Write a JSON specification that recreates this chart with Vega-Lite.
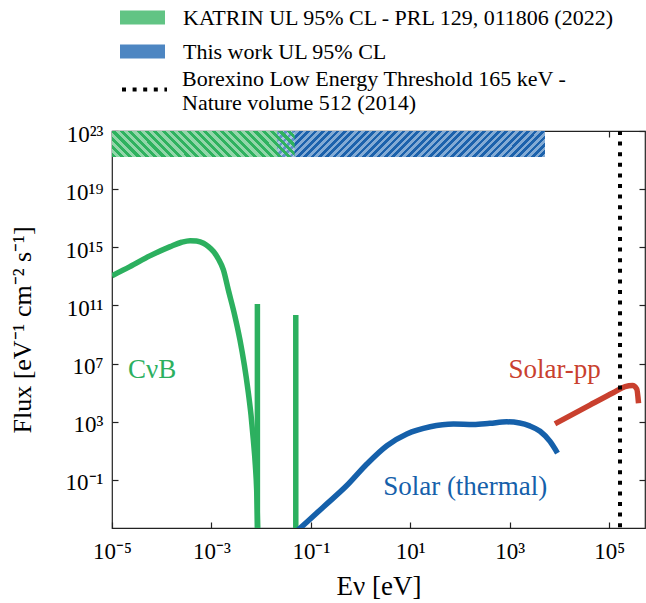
{
  "$schema": "https://vega.github.io/schema/vega-lite/v6.json",
  "width": 533,
  "height": 397,
  "autosize": {"type": "none"},
  "padding": {"left": 112, "top": 131, "right": 1, "bottom": 75},
  "background": "white",
  "config": {
    "view": {"stroke": "#222", "strokeWidth": 1.2},
    "font": "Liberation Serif",
    "axis": {
      "grid": false, "domain": false, "tickColor": "#222", "tickWidth": 1.2, "tickSize": -6,
      "labelFont": "Liberation Serif", "labelFontSize": 23, "labelColor": "black",
      "titleFont": "Liberation Serif", "titleFontSize": 27, "titleFontWeight": "normal", "titleColor": "black",
      "labelFlush": false, "labelOverlap": false
    }
  },
  "datasets": {
    "rects": [
      {"label": "KATRIN UL 95% CL - PRL 129, 011806 (2022)", "E1": 1e-5, "E2": 0.047, "F1": 1.6e21, "F2": 1e23},
      {"label": "This work UL 95% CL", "E1": 0.0212, "E2": 5100, "F1": 1.6e21, "F2": 1e23}
    ],
    "curves": [
      {"series": "CνB", "E": 1e-5, "F": 1.12e13},
      {"series": "CνB", "E": 2.29e-5, "F": 4.68e13},
      {"series": "CνB", "E": 5.75e-5, "F": 2.57e14},
      {"series": "CνB", "E": 1.48e-4, "F": 1.12e15},
      {"series": "CνB", "E": 2.51e-4, "F": 2.24e15},
      {"series": "CνB", "E": 3.72e-4, "F": 2.88e15},
      {"series": "CνB", "E": 5.01e-4, "F": 2.69e15},
      {"series": "CνB", "E": 6.92e-4, "F": 1.91e15},
      {"series": "CνB", "E": 8.71e-4, "F": 1.12e15},
      {"series": "CνB", "E": 1.10e-3, "F": 5.13e14},
      {"series": "CνB", "E": 1.38e-3, "F": 1.58e14},
      {"series": "CνB", "E": 1.74e-3, "F": 2.82e13},
      {"series": "CνB", "E": 2.188e-3, "F": 1.16e12},
      {"series": "CνB", "E": 2.931e-3, "F": 2.21e10},
      {"series": "CνB", "E": 3.75e-3, "F": 4.23e8},
      {"series": "CνB", "E": 4.592e-3, "F": 8.05e6},
      {"series": "CνB", "E": 5.433e-3, "F": 1.54e5},
      {"series": "CνB", "E": 6.252e-3, "F": 2938},
      {"series": "CνB", "E": 6.966e-3, "F": 56},
      {"series": "CνB", "E": 7.638e-3, "F": 1.07},
      {"series": "CνB", "E": 8.128e-3, "F": 0.0204},
      {"series": "CνB", "E": 8.511e-3, "F": 4.68e-5},
      {"series": "CνB", "E": 8.71e-3, "F": 1e-6},
      {"series": "Solar (thermal)", "E": 0.0447, "F": 2.0e-5},
      {"series": "Solar (thermal)", "E": 0.0607, "F": 4.9e-5},
      {"series": "Solar (thermal)", "E": 0.1786, "F": 1.41e-3},
      {"series": "Solar (thermal)", "E": 0.528, "F": 0.0417},
      {"series": "Solar (thermal)", "E": 1.337, "F": 1.26},
      {"series": "Solar (thermal)", "E": 3.38, "F": 22.9},
      {"series": "Solar (thermal)", "E": 8.51, "F": 145},
      {"series": "Solar (thermal)", "E": 25.1, "F": 457},
      {"series": "Solar (thermal)", "E": 74, "F": 708},
      {"series": "Solar (thermal)", "E": 186, "F": 661},
      {"series": "Solar (thermal)", "E": 398, "F": 794},
      {"series": "Solar (thermal)", "E": 871, "F": 1000},
      {"series": "Solar (thermal)", "E": 1585, "F": 832},
      {"series": "Solar (thermal)", "E": 2512, "F": 525},
      {"series": "Solar (thermal)", "E": 4074, "F": 224},
      {"series": "Solar (thermal)", "E": 6457, "F": 44.7},
      {"series": "Solar (thermal)", "E": 9120, "F": 7.08},
      {"series": "Solar-pp", "E": 8128, "F": 724},
      {"series": "Solar-pp", "E": 41690, "F": 14790},
      {"series": "Solar-pp", "E": 123000, "F": 104700},
      {"series": "Solar-pp", "E": 208900, "F": 263000},
      {"series": "Solar-pp", "E": 295100, "F": 309000},
      {"series": "Solar-pp", "E": 358900, "F": 177800},
      {"series": "Solar-pp", "E": 389000, "F": 19050}
    ],
    "masses": [
      {"E": 0.0084, "Ftop": 1.29e11, "Fbot": 1e-6},
      {"E": 0.0497, "Ftop": 2.24e10, "Fbot": 1e-6}
    ],
    "threshold": [
      {"label": "Borexino Low Energy Threshold 165 keV -|Nature volume 512 (2014)", "E": 165000}
    ],
    "labels": [
      {"series": "CνB", "E": 2.1e-5, "F": 3.7e6},
      {"series": "Solar (thermal)", "E": 2.84, "F": 0.0355},
      {"series": "Solar-pp", "E": 940, "F": 3.7e6}
    ]
  },
  "resolve": {"axis": {"x": "independent", "y": "independent"}},
  "layer": [
    {
      "data": {"name": "rects"},
      "mark": {"type": "rect", "clip": true, "strokeWidth": 0},
      "encoding": {
        "x": {"field": "E1", "type": "quantitative", "title": null,
          "scale": {"type": "log", "domain": [1e-5, 525000], "nice": false},
          "axis": {"orient": "top", "values": [1e-5, 1e-3, 0.1, 10, 1000, 100000], "labels": false, "title": null}},
        "x2": {"field": "E2"},
        "y": {"field": "F1", "type": "quantitative", "title": null,
          "scale": {"type": "log", "domain": [5e-5, 1e23], "nice": false},
          "axis": {"orient": "right", "values": [0.1, 1000, 1e7, 1e11, 1e15, 1e19, 1e23], "labels": false, "title": null}},
        "y2": {"field": "F2"},
        "fill": {"field": "label", "type": "nominal",
          "scale": {"domain": ["KATRIN UL 95% CL - PRL 129, 011806 (2022)", "This work UL 95% CL"], "range": ["#61c484", "#4d86c2"]},
          "legend": {"orient": "none", "legendX": 8, "legendY": -136, "title": null, "padding": 0,
            "symbolType": "M-1,-0.311H1V0.311H-1Z", "symbolSize": 2025, "symbolStrokeWidth": 0, "symbolOpacity": 1,
            "labelFont": "Liberation Serif", "labelFontSize": 22, "labelColor": "black", "labelLimit": 600,
            "labelOffset": 18, "rowPadding": -2.5}}
      }
    },
    {
      "layer": [
        {
          "data": {"name": "rects"},
          "transform": [{"filter": "datum.label === 'This work UL 95% CL'"}],
          "mark": {"type": "rect", "clip": true, "strokeWidth": 0,
            "fill": {"gradient": "linear", "x1": 0, "y1": 0, "x2": 1.0872, "y2": 0.106, "stops": [
              {"offset": 0, "color": "#1c62ac"}, {"offset": 0.0125, "color": "#1c62ac"}, {"offset": 0.0125, "color": "rgba(255,255,255,0.3)"}, {"offset": 0.025, "color": "rgba(255,255,255,0.3)"},
              {"offset": 0.025, "color": "#1c62ac"}, {"offset": 0.0375, "color": "#1c62ac"}, {"offset": 0.0375, "color": "rgba(255,255,255,0.3)"}, {"offset": 0.05, "color": "rgba(255,255,255,0.3)"},
              {"offset": 0.05, "color": "#1c62ac"}, {"offset": 0.0625, "color": "#1c62ac"}, {"offset": 0.0625, "color": "rgba(255,255,255,0.3)"}, {"offset": 0.075, "color": "rgba(255,255,255,0.3)"},
              {"offset": 0.075, "color": "#1c62ac"}, {"offset": 0.0875, "color": "#1c62ac"}, {"offset": 0.0875, "color": "rgba(255,255,255,0.3)"}, {"offset": 0.1, "color": "rgba(255,255,255,0.3)"},
              {"offset": 0.1, "color": "#1c62ac"}, {"offset": 0.1125, "color": "#1c62ac"}, {"offset": 0.1125, "color": "rgba(255,255,255,0.3)"}, {"offset": 0.125, "color": "rgba(255,255,255,0.3)"},
              {"offset": 0.125, "color": "#1c62ac"}, {"offset": 0.1375, "color": "#1c62ac"}, {"offset": 0.1375, "color": "rgba(255,255,255,0.3)"}, {"offset": 0.15, "color": "rgba(255,255,255,0.3)"},
              {"offset": 0.15, "color": "#1c62ac"}, {"offset": 0.1625, "color": "#1c62ac"}, {"offset": 0.1625, "color": "rgba(255,255,255,0.3)"}, {"offset": 0.175, "color": "rgba(255,255,255,0.3)"},
              {"offset": 0.175, "color": "#1c62ac"}, {"offset": 0.1875, "color": "#1c62ac"}, {"offset": 0.1875, "color": "rgba(255,255,255,0.3)"}, {"offset": 0.2, "color": "rgba(255,255,255,0.3)"},
              {"offset": 0.2, "color": "#1c62ac"}, {"offset": 0.2125, "color": "#1c62ac"}, {"offset": 0.2125, "color": "rgba(255,255,255,0.3)"}, {"offset": 0.225, "color": "rgba(255,255,255,0.3)"},
              {"offset": 0.225, "color": "#1c62ac"}, {"offset": 0.2375, "color": "#1c62ac"}, {"offset": 0.2375, "color": "rgba(255,255,255,0.3)"}, {"offset": 0.25, "color": "rgba(255,255,255,0.3)"},
              {"offset": 0.25, "color": "#1c62ac"}, {"offset": 0.2625, "color": "#1c62ac"}, {"offset": 0.2625, "color": "rgba(255,255,255,0.3)"}, {"offset": 0.275, "color": "rgba(255,255,255,0.3)"},
              {"offset": 0.275, "color": "#1c62ac"}, {"offset": 0.2875, "color": "#1c62ac"}, {"offset": 0.2875, "color": "rgba(255,255,255,0.3)"}, {"offset": 0.3, "color": "rgba(255,255,255,0.3)"},
              {"offset": 0.3, "color": "#1c62ac"}, {"offset": 0.3125, "color": "#1c62ac"}, {"offset": 0.3125, "color": "rgba(255,255,255,0.3)"}, {"offset": 0.325, "color": "rgba(255,255,255,0.3)"},
              {"offset": 0.325, "color": "#1c62ac"}, {"offset": 0.3375, "color": "#1c62ac"}, {"offset": 0.3375, "color": "rgba(255,255,255,0.3)"}, {"offset": 0.35, "color": "rgba(255,255,255,0.3)"},
              {"offset": 0.35, "color": "#1c62ac"}, {"offset": 0.3625, "color": "#1c62ac"}, {"offset": 0.3625, "color": "rgba(255,255,255,0.3)"}, {"offset": 0.375, "color": "rgba(255,255,255,0.3)"},
              {"offset": 0.375, "color": "#1c62ac"}, {"offset": 0.3875, "color": "#1c62ac"}, {"offset": 0.3875, "color": "rgba(255,255,255,0.3)"}, {"offset": 0.4, "color": "rgba(255,255,255,0.3)"},
              {"offset": 0.4, "color": "#1c62ac"}, {"offset": 0.4125, "color": "#1c62ac"}, {"offset": 0.4125, "color": "rgba(255,255,255,0.3)"}, {"offset": 0.425, "color": "rgba(255,255,255,0.3)"},
              {"offset": 0.425, "color": "#1c62ac"}, {"offset": 0.4375, "color": "#1c62ac"}, {"offset": 0.4375, "color": "rgba(255,255,255,0.3)"}, {"offset": 0.45, "color": "rgba(255,255,255,0.3)"},
              {"offset": 0.45, "color": "#1c62ac"}, {"offset": 0.4625, "color": "#1c62ac"}, {"offset": 0.4625, "color": "rgba(255,255,255,0.3)"}, {"offset": 0.475, "color": "rgba(255,255,255,0.3)"},
              {"offset": 0.475, "color": "#1c62ac"}, {"offset": 0.4875, "color": "#1c62ac"}, {"offset": 0.4875, "color": "rgba(255,255,255,0.3)"}, {"offset": 0.5, "color": "rgba(255,255,255,0.3)"},
              {"offset": 0.5, "color": "#1c62ac"}, {"offset": 0.5125, "color": "#1c62ac"}, {"offset": 0.5125, "color": "rgba(255,255,255,0.3)"}, {"offset": 0.525, "color": "rgba(255,255,255,0.3)"},
              {"offset": 0.525, "color": "#1c62ac"}, {"offset": 0.5375, "color": "#1c62ac"}, {"offset": 0.5375, "color": "rgba(255,255,255,0.3)"}, {"offset": 0.55, "color": "rgba(255,255,255,0.3)"},
              {"offset": 0.55, "color": "#1c62ac"}, {"offset": 0.5625, "color": "#1c62ac"}, {"offset": 0.5625, "color": "rgba(255,255,255,0.3)"}, {"offset": 0.575, "color": "rgba(255,255,255,0.3)"},
              {"offset": 0.575, "color": "#1c62ac"}, {"offset": 0.5875, "color": "#1c62ac"}, {"offset": 0.5875, "color": "rgba(255,255,255,0.3)"}, {"offset": 0.6, "color": "rgba(255,255,255,0.3)"},
              {"offset": 0.6, "color": "#1c62ac"}, {"offset": 0.6125, "color": "#1c62ac"}, {"offset": 0.6125, "color": "rgba(255,255,255,0.3)"}, {"offset": 0.625, "color": "rgba(255,255,255,0.3)"},
              {"offset": 0.625, "color": "#1c62ac"}, {"offset": 0.6375, "color": "#1c62ac"}, {"offset": 0.6375, "color": "rgba(255,255,255,0.3)"}, {"offset": 0.65, "color": "rgba(255,255,255,0.3)"},
              {"offset": 0.65, "color": "#1c62ac"}, {"offset": 0.6625, "color": "#1c62ac"}, {"offset": 0.6625, "color": "rgba(255,255,255,0.3)"}, {"offset": 0.675, "color": "rgba(255,255,255,0.3)"},
              {"offset": 0.675, "color": "#1c62ac"}, {"offset": 0.6875, "color": "#1c62ac"}, {"offset": 0.6875, "color": "rgba(255,255,255,0.3)"}, {"offset": 0.7, "color": "rgba(255,255,255,0.3)"},
              {"offset": 0.7, "color": "#1c62ac"}, {"offset": 0.7125, "color": "#1c62ac"}, {"offset": 0.7125, "color": "rgba(255,255,255,0.3)"}, {"offset": 0.725, "color": "rgba(255,255,255,0.3)"},
              {"offset": 0.725, "color": "#1c62ac"}, {"offset": 0.7375, "color": "#1c62ac"}, {"offset": 0.7375, "color": "rgba(255,255,255,0.3)"}, {"offset": 0.75, "color": "rgba(255,255,255,0.3)"},
              {"offset": 0.75, "color": "#1c62ac"}, {"offset": 0.7625, "color": "#1c62ac"}, {"offset": 0.7625, "color": "rgba(255,255,255,0.3)"}, {"offset": 0.775, "color": "rgba(255,255,255,0.3)"},
              {"offset": 0.775, "color": "#1c62ac"}, {"offset": 0.7875, "color": "#1c62ac"}, {"offset": 0.7875, "color": "rgba(255,255,255,0.3)"}, {"offset": 0.8, "color": "rgba(255,255,255,0.3)"},
              {"offset": 0.8, "color": "#1c62ac"}, {"offset": 0.8125, "color": "#1c62ac"}, {"offset": 0.8125, "color": "rgba(255,255,255,0.3)"}, {"offset": 0.825, "color": "rgba(255,255,255,0.3)"},
              {"offset": 0.825, "color": "#1c62ac"}, {"offset": 0.8375, "color": "#1c62ac"}, {"offset": 0.8375, "color": "rgba(255,255,255,0.3)"}, {"offset": 0.85, "color": "rgba(255,255,255,0.3)"},
              {"offset": 0.85, "color": "#1c62ac"}, {"offset": 0.8625, "color": "#1c62ac"}, {"offset": 0.8625, "color": "rgba(255,255,255,0.3)"}, {"offset": 0.875, "color": "rgba(255,255,255,0.3)"},
              {"offset": 0.875, "color": "#1c62ac"}, {"offset": 0.8875, "color": "#1c62ac"}, {"offset": 0.8875, "color": "rgba(255,255,255,0.3)"}, {"offset": 0.9, "color": "rgba(255,255,255,0.3)"},
              {"offset": 0.9, "color": "#1c62ac"}, {"offset": 0.9125, "color": "#1c62ac"}, {"offset": 0.9125, "color": "rgba(255,255,255,0.3)"}, {"offset": 0.925, "color": "rgba(255,255,255,0.3)"},
              {"offset": 0.925, "color": "#1c62ac"}, {"offset": 0.9375, "color": "#1c62ac"}, {"offset": 0.9375, "color": "rgba(255,255,255,0.3)"}, {"offset": 0.95, "color": "rgba(255,255,255,0.3)"},
              {"offset": 0.95, "color": "#1c62ac"}, {"offset": 0.9625, "color": "#1c62ac"}, {"offset": 0.9625, "color": "rgba(255,255,255,0.3)"}, {"offset": 0.975, "color": "rgba(255,255,255,0.3)"},
              {"offset": 0.975, "color": "#1c62ac"}, {"offset": 0.9875, "color": "#1c62ac"}, {"offset": 0.9875, "color": "rgba(255,255,255,0.3)"}, {"offset": 1, "color": "rgba(255,255,255,0.3)"}
            ]}},
          "encoding": {
            "x": {"field": "E1", "type": "quantitative", "title": "Eν [eV]",
              "scale": {"type": "log", "domain": [1e-5, 525000], "nice": false},
              "axis": {"values": [1e-5, 1e-3, 0.1, 10, 1000, 100000], "labelPadding": 18, "titlePadding": 10,
                "labelExpr": "datum.value < 1e-4 ? '10⁻⁵' : datum.value < 1e-2 ? '10⁻³' : datum.value < 1 ? '10⁻¹' : datum.value < 100 ? '10¹' : datum.value < 1e4 ? '10³' : '10⁵'"}},
            "x2": {"field": "E2"},
            "y": {"field": "F1", "type": "quantitative", "title": "Flux [eV⁻¹ cm⁻² s⁻¹]",
              "scale": {"type": "log", "domain": [5e-5, 1e23], "nice": false},
              "axis": {"values": [0.1, 1000, 1e7, 1e11, 1e15, 1e19, 1e23], "labelPadding": 15, "titlePadding": 30, "labelOffset": 3, "titleFontSize": 26,
                "labelExpr": "datum.value < 1 ? '10⁻¹' : datum.value < 1e4 ? '10³' : datum.value < 1e8 ? '10⁷' : datum.value < 1e12 ? '10¹¹' : datum.value < 1e16 ? '10¹⁵' : datum.value < 1e20 ? '10¹⁹' : '10²³'"}},
            "y2": {"field": "F2"}
          }
        },
        {
          "data": {"name": "rects"},
          "transform": [{"filter": "datum.label !== 'This work UL 95% CL'"}],
          "mark": {"type": "rect", "clip": true, "strokeWidth": 0,
            "fill": {"gradient": "linear", "x1": 0, "y1": 1, "x2": 1.1199, "y2": 0.8403, "stops": [
              {"offset": 0, "color": "#2fb25f"}, {"offset": 0.02, "color": "#2fb25f"}, {"offset": 0.02, "color": "rgba(255,255,255,0.31)"}, {"offset": 0.04, "color": "rgba(255,255,255,0.31)"},
              {"offset": 0.04, "color": "#2fb25f"}, {"offset": 0.06, "color": "#2fb25f"}, {"offset": 0.06, "color": "rgba(255,255,255,0.31)"}, {"offset": 0.08, "color": "rgba(255,255,255,0.31)"},
              {"offset": 0.08, "color": "#2fb25f"}, {"offset": 0.1, "color": "#2fb25f"}, {"offset": 0.1, "color": "rgba(255,255,255,0.31)"}, {"offset": 0.12, "color": "rgba(255,255,255,0.31)"},
              {"offset": 0.12, "color": "#2fb25f"}, {"offset": 0.14, "color": "#2fb25f"}, {"offset": 0.14, "color": "rgba(255,255,255,0.31)"}, {"offset": 0.16, "color": "rgba(255,255,255,0.31)"},
              {"offset": 0.16, "color": "#2fb25f"}, {"offset": 0.18, "color": "#2fb25f"}, {"offset": 0.18, "color": "rgba(255,255,255,0.31)"}, {"offset": 0.2, "color": "rgba(255,255,255,0.31)"},
              {"offset": 0.2, "color": "#2fb25f"}, {"offset": 0.22, "color": "#2fb25f"}, {"offset": 0.22, "color": "rgba(255,255,255,0.31)"}, {"offset": 0.24, "color": "rgba(255,255,255,0.31)"},
              {"offset": 0.24, "color": "#2fb25f"}, {"offset": 0.26, "color": "#2fb25f"}, {"offset": 0.26, "color": "rgba(255,255,255,0.31)"}, {"offset": 0.28, "color": "rgba(255,255,255,0.31)"},
              {"offset": 0.28, "color": "#2fb25f"}, {"offset": 0.3, "color": "#2fb25f"}, {"offset": 0.3, "color": "rgba(255,255,255,0.31)"}, {"offset": 0.32, "color": "rgba(255,255,255,0.31)"},
              {"offset": 0.32, "color": "#2fb25f"}, {"offset": 0.34, "color": "#2fb25f"}, {"offset": 0.34, "color": "rgba(255,255,255,0.31)"}, {"offset": 0.36, "color": "rgba(255,255,255,0.31)"},
              {"offset": 0.36, "color": "#2fb25f"}, {"offset": 0.38, "color": "#2fb25f"}, {"offset": 0.38, "color": "rgba(255,255,255,0.31)"}, {"offset": 0.4, "color": "rgba(255,255,255,0.31)"},
              {"offset": 0.4, "color": "#2fb25f"}, {"offset": 0.42, "color": "#2fb25f"}, {"offset": 0.42, "color": "rgba(255,255,255,0.31)"}, {"offset": 0.44, "color": "rgba(255,255,255,0.31)"},
              {"offset": 0.44, "color": "#2fb25f"}, {"offset": 0.46, "color": "#2fb25f"}, {"offset": 0.46, "color": "rgba(255,255,255,0.31)"}, {"offset": 0.48, "color": "rgba(255,255,255,0.31)"},
              {"offset": 0.48, "color": "#2fb25f"}, {"offset": 0.5, "color": "#2fb25f"}, {"offset": 0.5, "color": "rgba(255,255,255,0.31)"}, {"offset": 0.52, "color": "rgba(255,255,255,0.31)"},
              {"offset": 0.52, "color": "#2fb25f"}, {"offset": 0.54, "color": "#2fb25f"}, {"offset": 0.54, "color": "rgba(255,255,255,0.31)"}, {"offset": 0.56, "color": "rgba(255,255,255,0.31)"},
              {"offset": 0.56, "color": "#2fb25f"}, {"offset": 0.58, "color": "#2fb25f"}, {"offset": 0.58, "color": "rgba(255,255,255,0.31)"}, {"offset": 0.6, "color": "rgba(255,255,255,0.31)"},
              {"offset": 0.6, "color": "#2fb25f"}, {"offset": 0.62, "color": "#2fb25f"}, {"offset": 0.62, "color": "rgba(255,255,255,0.31)"}, {"offset": 0.64, "color": "rgba(255,255,255,0.31)"},
              {"offset": 0.64, "color": "#2fb25f"}, {"offset": 0.66, "color": "#2fb25f"}, {"offset": 0.66, "color": "rgba(255,255,255,0.31)"}, {"offset": 0.68, "color": "rgba(255,255,255,0.31)"},
              {"offset": 0.68, "color": "#2fb25f"}, {"offset": 0.7, "color": "#2fb25f"}, {"offset": 0.7, "color": "rgba(255,255,255,0.31)"}, {"offset": 0.72, "color": "rgba(255,255,255,0.31)"},
              {"offset": 0.72, "color": "#2fb25f"}, {"offset": 0.74, "color": "#2fb25f"}, {"offset": 0.74, "color": "rgba(255,255,255,0.31)"}, {"offset": 0.76, "color": "rgba(255,255,255,0.31)"},
              {"offset": 0.76, "color": "#2fb25f"}, {"offset": 0.78, "color": "#2fb25f"}, {"offset": 0.78, "color": "rgba(255,255,255,0.31)"}, {"offset": 0.8, "color": "rgba(255,255,255,0.31)"},
              {"offset": 0.8, "color": "#2fb25f"}, {"offset": 0.82, "color": "#2fb25f"}, {"offset": 0.82, "color": "rgba(255,255,255,0.31)"}, {"offset": 0.84, "color": "rgba(255,255,255,0.31)"},
              {"offset": 0.84, "color": "#2fb25f"}, {"offset": 0.86, "color": "#2fb25f"}, {"offset": 0.86, "color": "rgba(255,255,255,0.31)"}, {"offset": 0.88, "color": "rgba(255,255,255,0.31)"},
              {"offset": 0.88, "color": "#2fb25f"}, {"offset": 0.9, "color": "#2fb25f"}, {"offset": 0.9, "color": "rgba(255,255,255,0.31)"}, {"offset": 0.92, "color": "rgba(255,255,255,0.31)"},
              {"offset": 0.92, "color": "#2fb25f"}, {"offset": 0.94, "color": "#2fb25f"}, {"offset": 0.94, "color": "rgba(255,255,255,0.31)"}, {"offset": 0.96, "color": "rgba(255,255,255,0.31)"},
              {"offset": 0.96, "color": "#2fb25f"}, {"offset": 0.98, "color": "#2fb25f"}, {"offset": 0.98, "color": "rgba(255,255,255,0.31)"}, {"offset": 1, "color": "rgba(255,255,255,0.31)"}
            ]}},
          "encoding": {
            "x": {"field": "E1", "type": "quantitative", "title": "Eν [eV]"},
            "x2": {"field": "E2"},
            "y": {"field": "F1", "type": "quantitative", "title": "Flux [eV⁻¹ cm⁻² s⁻¹]"},
            "y2": {"field": "F2"}
          }
        },
        {
          "data": {"name": "masses"},
          "mark": {"type": "rule", "clip": true, "strokeWidth": 5.5, "color": "#2cb05f", "strokeCap": "butt"},
          "encoding": {
            "x": {"field": "E", "type": "quantitative", "title": "Eν [eV]"},
            "y": {"field": "Ftop", "type": "quantitative", "title": "Flux [eV⁻¹ cm⁻² s⁻¹]"},
            "y2": {"field": "Fbot"}
          }
        },
        {
          "data": {"name": "curves"},
          "mark": {"type": "line", "clip": true, "strokeWidth": 5.5, "interpolate": "monotone", "strokeCap": "butt"},
          "encoding": {
            "x": {"field": "E", "type": "quantitative", "title": "Eν [eV]"},
            "y": {"field": "F", "type": "quantitative", "title": "Flux [eV⁻¹ cm⁻² s⁻¹]"},
            "color": {"field": "series", "type": "nominal", "legend": null,
              "scale": {"domain": ["CνB", "Solar (thermal)", "Solar-pp"], "range": ["#2cb05f", "#1560aa", "#c9402e"]}}
          }
        },
        {
          "data": {"name": "threshold"},
          "mark": {"type": "rule", "clip": true, "strokeWidth": 4, "color": "black", "strokeCap": "butt"},
          "encoding": {
            "x": {"field": "E", "type": "quantitative", "title": "Eν [eV]"},
            "strokeDash": {"field": "label", "type": "nominal",
              "scale": {"range": [[4, 6.6]]},
              "legend": {"orient": "none", "legendX": 8, "legendY": -77, "title": null, "padding": 0,
                "symbolType": "M-1,0.49H1", "symbolSize": 2025, "symbolStrokeColor": "black", "symbolStrokeWidth": 4,
                "labelFont": "Liberation Serif", "labelFontSize": 22, "labelColor": "black", "labelLimit": 600,
                "labelOffset": 13, "labelExpr": "split(datum.label, '|')"}}
          }
        },
        {
          "data": {"name": "labels"},
          "mark": {"type": "text", "align": "left", "baseline": "middle", "font": "Liberation Serif", "fontSize": 27},
          "encoding": {
            "x": {"field": "E", "type": "quantitative", "title": "Eν [eV]"},
            "y": {"field": "F", "type": "quantitative", "title": "Flux [eV⁻¹ cm⁻² s⁻¹]"},
            "text": {"field": "series"},
            "color": {"field": "series", "type": "nominal", "legend": null}
          }
        }
      ]
    }
  ]
}
